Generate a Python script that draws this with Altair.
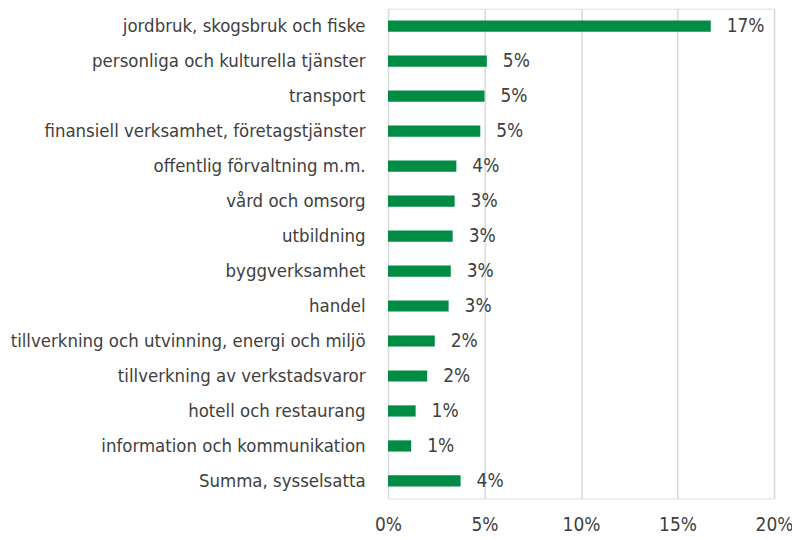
import altair as alt
import pandas as pd

categories = [
    "jordbruk, skogsbruk och fiske",
    "personliga och kulturella tjänster",
    "transport",
    "finansiell verksamhet, företagstjänster",
    "offentlig förvaltning m.m.",
    "vård och omsorg",
    "utbildning",
    "byggverksamhet",
    "handel",
    "tillverkning och utvinning, energi och miljö",
    "tillverkning av verkstadsvaror",
    "hotell och restaurang",
    "information och kommunikation",
    "Summa, sysselsatta",
]
values = [0.1672, 0.0512, 0.0500, 0.0478, 0.0354, 0.0345, 0.0335, 0.0325,
          0.0314, 0.0242, 0.0203, 0.0143, 0.0120, 0.0376]
x_ticks = [0, 0.05, 0.10, 0.15, 0.20]

df = pd.DataFrame({"cat": categories, "val": values})

FONT = "DejaVu Sans Condensed, Liberation Sans Narrow, Roboto Condensed, Roboto, sans-serif"
TEXT = "#404040"
GREEN = "#008C44"

y = alt.Y("cat:N", sort=categories, title=None,
          scale=alt.Scale(paddingInner=0.68, paddingOuter=0.34),
          axis=alt.Axis(domain=False, ticks=False, labelPadding=23,
                        labelFontSize=18.5, labelFont=FONT, labelColor=TEXT,
                        labelLimit=400))
x = alt.X("val:Q", title=None,
          scale=alt.Scale(domain=[0, 0.2], nice=False),
          axis=alt.Axis(values=x_ticks, format=".0%", domain=False, ticks=False,
                        grid=True, gridColor="#D9D9D9", gridWidth=1.5,
                        labelFlush=False,
                        labelPadding=17, labelFontSize=19, labelFont=FONT,
                        labelColor=TEXT))

bars = alt.Chart(df).mark_bar(color=GREEN).encode(x=x, y=y)
labels = alt.Chart(df).mark_text(align="left", baseline="middle", dx=16,
                                 font=FONT, fontSize=19, color=TEXT).encode(
    x="val:Q", y=alt.Y("cat:N", sort=categories),
    text=alt.Text("val:Q", format=".0%"))

chart = (bars + labels).properties(
    width=387, height=491,
    autosize=alt.AutoSizeParams(type="none"),
    padding={"left": 381, "top": 0, "right": 18, "bottom": 40},
).configure_view(stroke=None).configure(background="white")

chart.save("out.html", embed_options={"renderer": "svg", "actions": False})
